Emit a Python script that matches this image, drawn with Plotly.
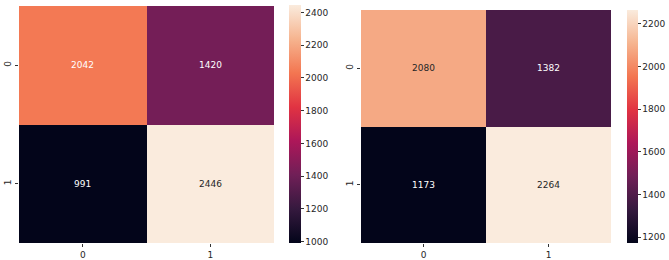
import plotly.graph_objects as go

# Data
labels = ["0", "1"]
cm_left = [[2042, 1420], [991, 2446]]
cm_right = [[2080, 1382], [1173, 2264]]

# seaborn "rocket" colormap (approx.)
rocket = [
    [0.0, "#03051a"],
    [1 / 7, "#35193e"],
    [2 / 7, "#701f57"],
    [3 / 7, "#ad1759"],
    [4 / 7, "#e13342"],
    [5 / 7, "#f37651"],
    [6 / 7, "#f6b48f"],
    [1.0, "#faebdd"],
]


def hex2rgb(h):
    h = h.lstrip("#")
    return [int(h[i:i + 2], 16) / 255 for i in (0, 2, 4)]


def color_at(t):
    for (a, ca), (b, cb) in zip(rocket[:-1], rocket[1:]):
        if a <= t <= b:
            f = (t - a) / (b - a) if b > a else 0
            c1, c2 = hex2rgb(ca), hex2rgb(cb)
            return [c1[k] + (c2[k] - c1[k]) * f for k in range(3)]
    return hex2rgb(rocket[-1][1])


def luminance(rgb):
    out = []
    for c in rgb:
        out.append(c / 12.92 if c <= 0.03928 else ((c + 0.055) / 1.055) ** 2.4)
    return 0.2126 * out[0] + 0.7152 * out[1] + 0.0722 * out[2]


W, H = 669, 260
fig = go.Figure()

panels = [
    dict(z=cm_left, xd=[19 / W, 274 / W], yd=[1 - 243 / H, 1 - 6 / H],
         cbx=289 / W, cbthick=12, cblen=(243 - 5) / H, xa="x", ya="y"),
    dict(z=cm_right, xd=[361 / W, 611 / W], yd=[1 - 243 / H, 1 - 10 / H],
         cbx=627 / W, cbthick=11, cblen=(243 - 10) / H, xa="x2", ya="y2"),
]

annotations = []
for i, p in enumerate(panels):
    z = p["z"]
    zmin = min(min(r) for r in z)
    zmax = max(max(r) for r in z)
    fig.add_trace(go.Heatmap(
        z=z, x=[0, 1], y=[0, 1],
        colorscale=rocket, zmin=zmin, zmax=zmax,
        xaxis=p["xa"], yaxis=p["ya"],
        colorbar=dict(
            x=p["cbx"], xanchor="left", xpad=0, ypad=0,
            y=1 - 243 / H, yanchor="bottom", len=p["cblen"], lenmode="fraction",
            thickness=p["cbthick"], thicknessmode="pixels",
            outlinewidth=0, dtick=200, tick0=0,
            ticks="outside", ticklen=3, tickcolor="#333333", tickwidth=1,
            tickfont=dict(family="DejaVu Sans", size=9, color="#262626"),
        ),
        hoverinfo="skip",
    ))
    for r in range(2):
        for c in range(2):
            v = z[r][c]
            t = (v - zmin) / (zmax - zmin)
            col = "#262626" if luminance(color_at(t)) > 0.408 else "#ffffff"
            annotations.append(dict(
                x=c, y=r, xref=p["xa"], yref=p["ya"], text=str(v),
                showarrow=False,
                font=dict(family="DejaVu Sans", size=9, color=col),
            ))

axis_common = dict(
    showgrid=False, zeroline=False, showline=False,
    ticks="outside", ticklen=3, tickcolor="#333333", tickwidth=1,
    tickfont=dict(family="DejaVu Sans", size=9, color="#262626"),
    tickvals=[0, 1], ticktext=labels,
)

fig.update_layout(
    width=W, height=H,
    margin=dict(l=0, r=0, t=0, b=0, autoexpand=False),
    paper_bgcolor="white", plot_bgcolor="white",
    showlegend=False,
    annotations=annotations,
    xaxis=dict(domain=panels[0]["xd"], anchor="y", range=[-0.5, 1.5], **axis_common),
    yaxis=dict(domain=panels[0]["yd"], anchor="x", range=[1.5, -0.5], tickangle=-90, **axis_common),
    xaxis2=dict(domain=panels[1]["xd"], anchor="y2", range=[-0.5, 1.5], **axis_common),
    yaxis2=dict(domain=panels[1]["yd"], anchor="x2", range=[1.5, -0.5], tickangle=-90, **axis_common),
)

fig.write_html(
    "out.html",
    config={"displayModeBar": False},
    post_script="document.body.style.margin='0';document.body.style.padding='0';document.body.style.overflow='hidden';",
)
